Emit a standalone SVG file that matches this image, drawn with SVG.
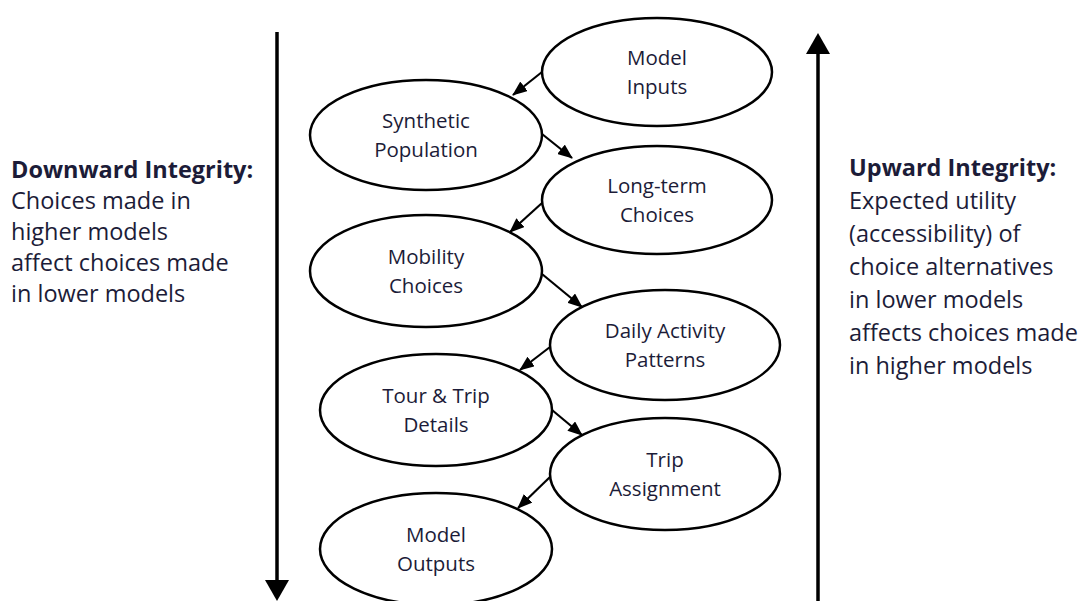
<svg xmlns="http://www.w3.org/2000/svg" width="1086" height="601" viewBox="0 0 1086 601">
<style>
.node ellipse{fill:#fff;stroke:#000;stroke-width:2.5}
.node text{font-family:"Open Sans","Noto Sans",sans-serif;font-size:20.5px;fill:#1c1c38;text-anchor:middle}
.side{font-family:"Open Sans","Noto Sans",sans-serif;font-size:23.5px;fill:#1c1c38}
.side .h{font-weight:bold}
.conn{stroke:#000;stroke-width:2.2;fill:none}
.big{stroke:#000;stroke-width:3.5;fill:none}
</style>
<defs>
<marker id="ah" markerWidth="15" markerHeight="12" refX="14" refY="6" orient="auto" markerUnits="userSpaceOnUse">
<path d="M0,0 L15,6 L0,12 Z" fill="#000"/>
</marker>
</defs>
<rect width="1086" height="601" fill="#fff"/>
<g id="connectors">
<line class="big" x1="277" y1="32" x2="277" y2="582"/>
<path d="M265,580 L289,580 L277,601 Z" fill="#000"/>
<line class="big" x1="818" y1="601" x2="818" y2="52"/>
<path d="M806,54 L830,54 L818,33 Z" fill="#000"/>
<line class="conn" x1="542" y1="72" x2="513" y2="95" marker-end="url(#ah)"/>
<line class="conn" x1="542" y1="134" x2="572" y2="158" marker-end="url(#ah)"/>
<line class="conn" x1="542" y1="203" x2="510" y2="232" marker-end="url(#ah)"/>
<line class="conn" x1="542" y1="274" x2="582" y2="307" marker-end="url(#ah)"/>
<line class="conn" x1="550" y1="347" x2="520" y2="370" marker-end="url(#ah)"/>
<line class="conn" x1="552" y1="410" x2="582" y2="435" marker-end="url(#ah)"/>
<line class="conn" x1="550" y1="477" x2="518" y2="508" marker-end="url(#ah)"/>
</g>
<g id="model-inputs" class="node"><ellipse cx="657" cy="72" rx="115" ry="54"/><text x="657" y="65">Model</text><text x="657" y="94">Inputs</text></g>
<g id="synthetic-population" class="node"><ellipse cx="426" cy="135" rx="116" ry="55"/><text x="426" y="128">Synthetic</text><text x="426" y="157">Population</text></g>
<g id="long-term-choices" class="node"><ellipse cx="657" cy="200" rx="115" ry="54"/><text x="657" y="193">Long-term</text><text x="657" y="222">Choices</text></g>
<g id="mobility-choices" class="node"><ellipse cx="426" cy="271" rx="116" ry="56"/><text x="426" y="264">Mobility</text><text x="426" y="293">Choices</text></g>
<g id="daily-activity-patterns" class="node"><ellipse cx="665" cy="345" rx="115" ry="55"/><text x="665" y="338">Daily Activity</text><text x="665" y="367">Patterns</text></g>
<g id="tour-trip-details" class="node"><ellipse cx="436" cy="410" rx="116" ry="56"/><text x="436" y="403">Tour &amp; Trip</text><text x="436" y="432">Details</text></g>
<g id="trip-assignment" class="node"><ellipse cx="665" cy="474" rx="115" ry="56"/><text x="665" y="467">Trip</text><text x="665" y="496">Assignment</text></g>
<g id="model-outputs" class="node"><ellipse cx="436" cy="549" rx="116" ry="56"/><text x="436" y="542">Model</text><text x="436" y="571">Outputs</text></g>
<g id="downward-text">
<text class="side" x="11" y="178"><tspan class="h">Downward Integrity:</tspan><tspan x="11" dy="31">Choices made in</tspan><tspan x="11" dy="31">higher models</tspan><tspan x="11" dy="31">affect choices made</tspan><tspan x="11" dy="31">in lower models</tspan></text>
</g>
<g id="upward-text">
<text class="side" x="849" y="176"><tspan class="h">Upward Integrity:</tspan><tspan x="849" dy="33">Expected utility</tspan><tspan x="849" dy="33">(accessibility) of</tspan><tspan x="849" dy="33">choice alternatives</tspan><tspan x="849" dy="33">in lower models</tspan><tspan x="849" dy="33">affects choices made</tspan><tspan x="849" dy="33">in higher models</tspan></text>
</g>
</svg>
